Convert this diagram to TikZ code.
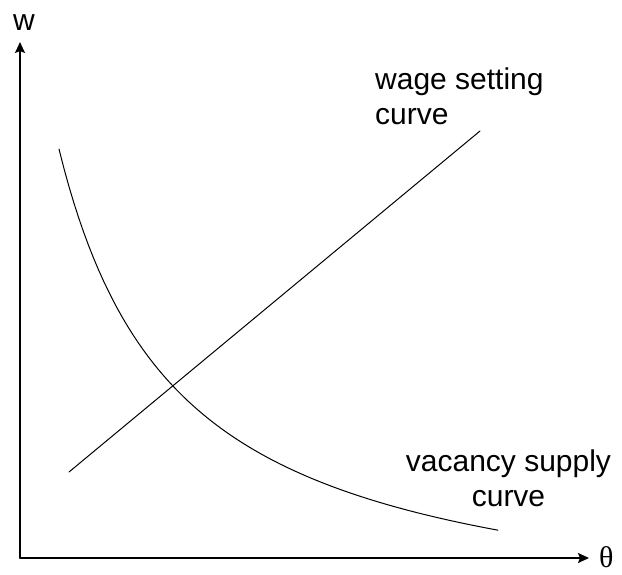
\documentclass[tikz,border=0pt]{standalone}
\usepackage{fontspec}
\setmainfont{Liberation Sans}
\newfontfamily\thetafont{Liberation Serif}
\usetikzlibrary{arrows.meta}

\begin{document}
\begin{tikzpicture}[
			x=1pt, y=-1pt,
			every node/.style={font=\fontsize{30}{35}\selectfont, inner sep=0pt},
			axis/.style={-{Stealth[length=11pt,width=10pt,inset=2pt]}, line width=1.5pt},
			curve/.style={line width=1pt},
			line cap=round,
			line join=round
			]
			\useasboundingbox (0,0) rectangle (622,574);
			
			% axes
			\coordinate (origin) at (20,558);
			\coordinate (wtop) at (20,42);
			\coordinate (thetaend) at (589,558);
			\draw[axis] (origin) -- (wtop);
			\draw[axis] (origin) -- (thetaend);
			\node (wlabel) at (24,23) {w};
			\node[anchor=west, font=\thetafont\fontsize{30}{35}\selectfont] (thetalabel) at (599,557) {θ};
			
			% wage setting curve
			\coordinate (wsstart) at (69,472);
			\coordinate (wsend) at (480,131);
			\draw[curve] (wsstart) -- (wsend);
			\node[align=left, anchor=north west] (wslabel) at (375,68) {wage setting\\curve};
			
			% vacancy supply curve
			\draw[curve] plot[domain=59:498, samples=90] (\x,{633.5-576.5/((\x+60)/100)});
			\node[align=center, anchor=north] (vslabel) at (508.5,450) {vacancy supply\\curve};
		\end{tikzpicture}
\end{document}
